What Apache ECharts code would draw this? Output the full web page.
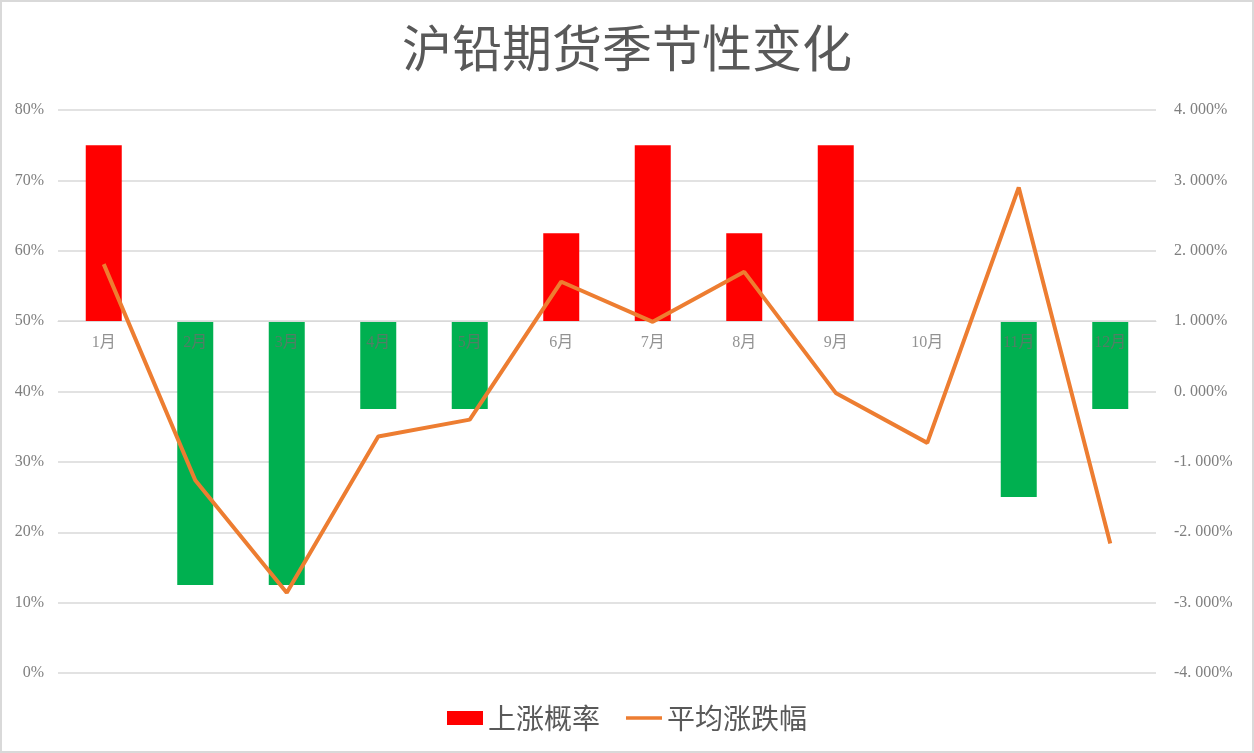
<!DOCTYPE html>
<html><head><meta charset="utf-8">
<script src="https://cdn.jsdelivr.net/npm/echarts@6/dist/echarts.min.js"></script>
<style>html,body{margin:0;padding:0;background:#fff}#c{width:1254px;height:753px;box-sizing:border-box;border:2px solid #d9d9d9}</style>
</head><body><div id="c"></div>
<script>
const months = ['1月','2月','3月','4月','5月','6月','7月','8月','9月','10月','11月','12月'];
const upProb = [75, 12.5, 12.5, 37.5, 37.5, 62.5, 75, 62.5, 75, 50, 25, 37.5];
const avgChange = [1.81, -1.26, -2.86, -0.64, -0.40, 1.56, 0.99, 1.70, -0.02, -0.73, 2.90, -2.16];
const BASE = 50;
const Y_MIN = -50, Y_MAX = 30;

const GRID = { left: 56, right: 96, top: 108, bottom: 78 };
const plotH = 753 - 4 - GRID.top - GRID.bottom;

const chart = echarts.init(document.getElementById('c'));
const labelFont = '"Liberation Serif", "Noto Sans CJK SC", serif';
chart.setOption({
  animation: false,
  title: { text: '沪铅期货季节性变化', left: 'center', top: 16,
    textStyle: { fontSize: 50, fontWeight: 'normal', color: '#595959', fontFamily: '"Noto Sans CJK SC"' } },
  legend: { bottom: 14, left: 'center', itemGap: 26, itemWidth: 36, itemHeight: 14,
    textStyle: { fontSize: 28, color: '#595959', fontFamily: '"Noto Sans CJK SC"' },
    data: [{ name: '上涨概率', icon: 'rect' },
           { name: '平均涨跌幅', icon: 'path://M0,0 L43,0 L43,4 L0,4Z', itemStyle: { color: '#ED7D31' } }] },
  grid: GRID,
  xAxis: { type: 'category', data: months, offset: -plotH * (0 - Y_MIN) / (Y_MAX - Y_MIN), z: 2.5,
    axisLine: { onZero: false, lineStyle: { color: '#d9d9d9' } }, axisTick: { show: false },
    axisLabel: { color: 'rgba(110,110,110,0.75)', fontSize: 16, margin: 14, fontFamily: labelFont } },
  yAxis: [
    { type: 'value', min: Y_MIN, max: Y_MAX, interval: 10,
      axisLabel: { color: '#7f7f7f', fontSize: 16, margin: 14, fontFamily: labelFont, formatter: v => (v + BASE) + '%' },
      splitLine: { lineStyle: { color: '#d9d9d9', width: 1.5 } }, axisLine: { show: false }, axisTick: { show: false } },
    { type: 'value', min: -4, max: 4, interval: 1,
      axisLabel: { color: '#7f7f7f', fontSize: 16, margin: 18, fontFamily: labelFont, formatter: v => v.toFixed(3).replace('.', '. ') + '%' },
      splitLine: { show: false }, axisLine: { show: false }, axisTick: { show: false } }
  ],
  series: [
    { name: '上涨概率', type: 'bar', barWidth: 36, itemStyle: { color: '#FF0000' }, z: 1,
      data: upProb.map(p => ({ value: p - BASE, itemStyle: { color: p >= BASE ? '#FF0000' : '#00B050' } })) },
    { name: '平均涨跌幅', type: 'line', yAxisIndex: 1, symbol: 'none', showSymbol: false, z: 3,
      lineStyle: { color: '#ED7D31', width: 4 }, itemStyle: { color: '#ED7D31' }, data: avgChange }
  ]
});
</script></body></html>
